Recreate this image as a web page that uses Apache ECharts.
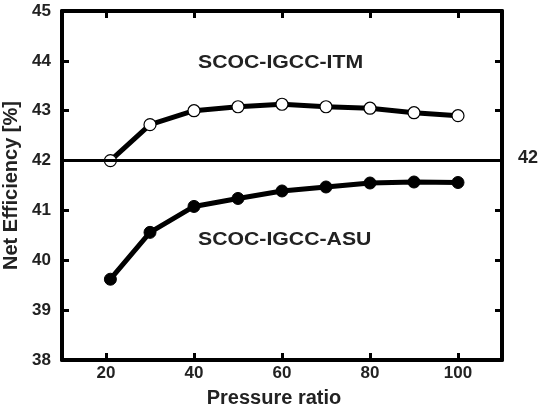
<!DOCTYPE html>
<html>
<head>
<meta charset="utf-8">
<script src="https://cdn.jsdelivr.net/npm/echarts@6/dist/echarts.min.js"></script>
<style>
  html, body { margin: 0; padding: 0; background: #fff; }
  #main { width: 541px; height: 408px; }
</style>
</head>
<body>
<div id="main"></div>
<script>
// pressure ratio values
var pressure = [21, 30, 40, 50, 60, 70, 80, 90, 100]
var itmEff = [42.0, 42.72, 43.0, 43.08, 43.13, 43.08, 43.05, 42.96, 42.9]
var asuEff = [39.62, 40.56, 41.08, 41.24, 41.39, 41.47, 41.55, 41.57, 41.56]
var xTicks = [20, 40, 60, 80, 100]
var refLine = 42
var itmName = 'SCOC-IGCC-ITM'
var asuName = 'SCOC-IGCC-ASU'

var font = 'Arial, "Liberation Sans", sans-serif'
var black = '#000'

function pairs (xs, ys) {
  return xs.map(function (x, i) { return [x, ys[i]] })
}

var myChart = echarts.init(document.getElementById('main'))

var axisLine = { show: true, lineStyle: { color: black, width: 4 } }
var axisTick = { show: true, inside: true, length: 7, lineStyle: { color: black, width: 3 } }
var xAxisTick = Object.assign({ customValues: xTicks }, axisTick)
var tickLabel = { color: '#222', fontFamily: font, fontWeight: 'bold', fontSize: 17 }

var option = {
  backgroundColor: '#fff',
  animation: false,
  grid: { left: 62, right: 39, top: 11, bottom: 48, outerBoundsMode: 'none', containLabel: false },
  xAxis: [{
    type: 'value',
    min: 10,
    max: 110,
    position: 'bottom',
    name: 'Pressure ratio',
    nameLocation: 'middle',
    nameGap: 28,
    nameTextStyle: { color: '#222', fontFamily: font, fontWeight: 'bold', fontSize: 20, padding: [0, 16, 0, 0] },
    axisLine: axisLine,
    axisTick: xAxisTick,
    axisLabel: Object.assign({ margin: 5, customValues: xTicks }, tickLabel),
    splitLine: { show: false }
  }, {
    type: 'value',
    min: 10,
    max: 110,
    position: 'top',
    axisLine: axisLine,
    axisTick: xAxisTick,
    axisLabel: { show: false },
    splitLine: { show: false }
  }],
  yAxis: [{
    type: 'value',
    min: 38,
    max: 45,
    interval: 1,
    position: 'left',
    name: 'Net Efficiency [%]',
    nameLocation: 'middle',
    nameGap: 40,
    nameTextStyle: { color: '#222', fontFamily: font, fontWeight: 'bold', fontSize: 20 },
    axisLine: axisLine,
    axisTick: axisTick,
    axisLabel: Object.assign({ margin: 11 }, tickLabel),
    splitLine: { show: false }
  }, {
    type: 'value',
    min: 38,
    max: 45,
    interval: 1,
    position: 'right',
    axisLine: axisLine,
    axisTick: axisTick,
    axisLabel: { show: false },
    splitLine: { show: false }
  }],
  series: [{
    name: itmName,
    type: 'line',
    data: pairs(pressure, itmEff),
    symbol: 'circle',
    symbolSize: 12,
    z: 3,
    lineStyle: { color: black, width: 5 },
    itemStyle: { color: '#fff', borderColor: black, borderWidth: 1.2 },
    markLine: {
      silent: true,
      symbol: 'none',
      lineStyle: { color: black, width: 3, type: 'solid' },
      label: {
        position: 'end',
        formatter: String(refLine),
        color: '#222',
        fontFamily: font,
        fontWeight: 'bold',
        fontSize: 18,
        distance: 16,
        offset: [0, -3]
      },
      data: [{ yAxis: refLine }]
    }
  }, {
    name: asuName,
    type: 'line',
    data: pairs(pressure, asuEff),
    symbol: 'circle',
    symbolSize: 12,
    lineStyle: { color: black, width: 5 },
    itemStyle: { color: black, borderColor: black }
  }],
  graphic: [{
    type: 'text',
    x: 198,
    y: 63,
    scaleX: 1.18,
    style: { text: itmName, fill: '#222', font: 'bold 18px ' + font, align: 'left', verticalAlign: 'middle' }
  }, {
    type: 'text',
    x: 198,
    y: 240,
    scaleX: 1.18,
    style: { text: asuName, fill: '#222', font: 'bold 18px ' + font, align: 'left', verticalAlign: 'middle' }
  }]
}

myChart.setOption(option)
window.addEventListener('resize', function () {
  myChart.resize()
})
</script>
</body>
</html>
